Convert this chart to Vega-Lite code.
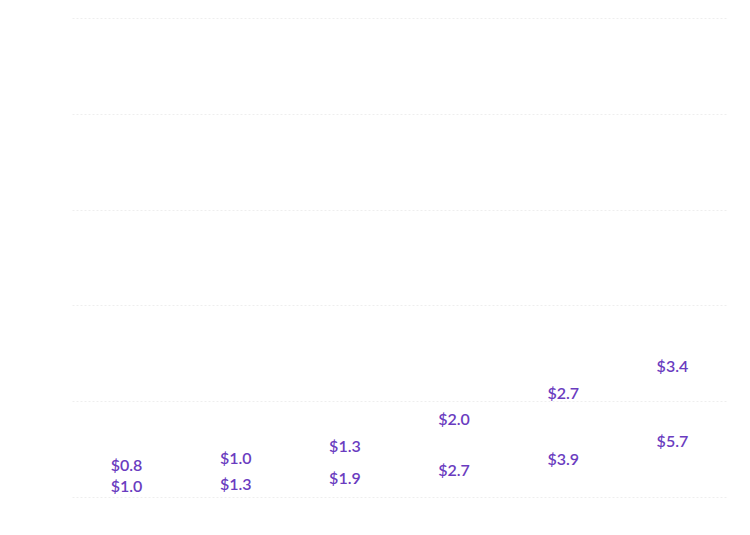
{
  "$schema": "https://vega.github.io/schema/vega-lite/v6.json",
  "width": 655,
  "height": 479,
  "autosize": "none",
  "padding": {"left": 72, "top": 18, "right": 23, "bottom": 38},
  "background": "white",
  "config": {"view": {"stroke": null}},
  "data": {
    "values": [
      {"cat": "A", "a": 0.8, "b": 1.0},
      {"cat": "B", "a": 1.0, "b": 1.3},
      {"cat": "C", "a": 1.3, "b": 1.9},
      {"cat": "D", "a": 2.0, "b": 2.7},
      {"cat": "E", "a": 2.7, "b": 3.9},
      {"cat": "F", "a": 3.4, "b": 5.7}
    ]
  },
  "encoding": {
    "x": {"field": "cat", "type": "nominal", "axis": null, "scale": {"paddingInner": 0, "paddingOuter": 0}}
  },
  "layer": [
    {
      "mark": {"type": "text", "font": "Lato", "fontSize": 16, "fontWeight": 600, "color": "#6a3cc0"},
      "encoding": {
        "y": {"field": "a", "type": "quantitative", "scale": {"domain": [0, 12.5], "nice": false},
          "axis": {"title": null, "labels": false, "ticks": false, "domain": false, "values": [0, 2.5, 5, 7.5, 10, 12.5], "gridColor": "#eeeeee", "gridDash": [2, 2]}},
        "text": {"field": "a", "type": "quantitative", "format": "$.1f"}
      }
    },
    {
      "mark": {"type": "text", "font": "Lato", "fontSize": 16, "fontWeight": 600, "color": "#6a3cc0"},
      "encoding": {
        "y": {"field": "b", "type": "quantitative", "scale": {"domain": [0, 50], "nice": false}, "axis": null},
        "text": {"field": "b", "type": "quantitative", "format": "$.1f"}
      }
    }
  ],
  "resolve": {"scale": {"y": "independent"}}
}
